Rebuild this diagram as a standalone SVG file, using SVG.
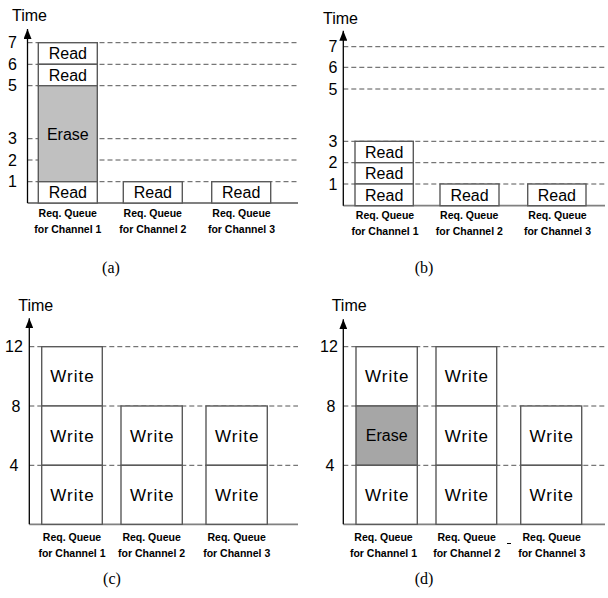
<svg xmlns="http://www.w3.org/2000/svg" width="608" height="598" viewBox="0 0 608 598">
<style>
.bg{fill:#ffffff}
.box{fill:#ffffff;stroke:#5a5a5a;stroke-width:1.4}
.er1{fill:#c0c0c0;stroke:#5a5a5a;stroke-width:1.4}
.er2{fill:#a6a6a6;stroke:#5a5a5a;stroke-width:1.4}
.dash{stroke:#555555;stroke-width:1;stroke-dasharray:5,3;fill:none}
.yax{stroke:#000000;stroke-width:1.3;fill:none}
.xax{stroke:#808080;stroke-width:1.8;fill:none}
.t{font-family:"Liberation Sans",Arial,sans-serif;font-size:16px;fill:#000;text-anchor:middle}
.w{font-family:"Liberation Sans",Arial,sans-serif;font-size:17px;letter-spacing:1px;fill:#000;text-anchor:middle}
.n{font-family:"Liberation Sans",Arial,sans-serif;font-size:16px;fill:#000;text-anchor:middle}
.time{font-family:"Liberation Sans",Arial,sans-serif;font-size:16px;fill:#000}
.lab{font-family:"Liberation Sans",Arial,sans-serif;font-size:10.5px;font-weight:bold;fill:#000;text-anchor:middle}
.cap{font-family:"Liberation Serif","Times New Roman",serif;font-size:16px;fill:#000;text-anchor:middle}
</style>
<defs>
<marker id="arr" markerUnits="userSpaceOnUse" markerWidth="10" markerHeight="8" refX="10" refY="4" orient="auto">
<path d="M0,0 L10,4 L0,8 z" fill="#000"/>
</marker>
</defs>
<rect class="bg" x="0" y="0" width="608" height="598"/>

<g id="connectors">
<!-- panel a -->
<g id="grid-a">
<line class="dash" x1="27.5" y1="42.7" x2="298" y2="42.7"/>
<line class="dash" x1="27.5" y1="64.3" x2="298" y2="64.3"/>
<line class="dash" x1="27.5" y1="85.7" x2="298" y2="85.7"/>
<line class="dash" x1="27.5" y1="138.7" x2="298" y2="138.7"/>
<line class="dash" x1="27.5" y1="160" x2="298" y2="160"/>
<line class="dash" x1="27.5" y1="181.7" x2="298" y2="181.7"/>
</g>
<line class="xax" x1="27.5" y1="203" x2="298" y2="203"/>
<line class="yax" x1="27.5" y1="203" x2="27.5" y2="29" marker-end="url(#arr)"/>
<!-- panel b -->
<g id="grid-b">
<line class="dash" x1="343.3" y1="46.7" x2="606" y2="46.7"/>
<line class="dash" x1="343.3" y1="67.3" x2="606" y2="67.3"/>
<line class="dash" x1="343.3" y1="89" x2="606" y2="89"/>
<line class="dash" x1="343.3" y1="141.3" x2="606" y2="141.3"/>
<line class="dash" x1="343.3" y1="162.7" x2="606" y2="162.7"/>
<line class="dash" x1="343.3" y1="184" x2="606" y2="184"/>
</g>
<line class="xax" x1="343.3" y1="205.7" x2="605" y2="205.7"/>
<line class="yax" x1="343.3" y1="205.7" x2="343.3" y2="30.7" marker-end="url(#arr)"/>
<!-- panel c -->
<g id="grid-c">
<line class="dash" x1="29.3" y1="346.7" x2="298" y2="346.7"/>
<line class="dash" x1="29.3" y1="406" x2="298" y2="406"/>
<line class="dash" x1="29.3" y1="465.3" x2="298" y2="465.3"/>
</g>
<line class="xax" x1="29.3" y1="524.3" x2="298" y2="524.3"/>
<line class="yax" x1="29.3" y1="524.3" x2="29.3" y2="318.3" marker-end="url(#arr)"/>
<!-- panel d -->
<g id="grid-d">
<line class="dash" x1="343.3" y1="346.7" x2="606" y2="346.7"/>
<line class="dash" x1="343.3" y1="406" x2="606" y2="406"/>
<line class="dash" x1="343.3" y1="465.3" x2="606" y2="465.3"/>
</g>
<line class="xax" x1="343.3" y1="524.3" x2="605" y2="524.3"/>
<line class="yax" x1="343.3" y1="524.3" x2="343.3" y2="319.3" marker-end="url(#arr)"/>
</g>

<!-- Panel (a) -->
<g id="panel-a">
<text class="time" x="12" y="20.7">Time</text>
<text class="n" x="12.5" y="48.4">7</text>
<text class="n" x="12.5" y="70">6</text>
<text class="n" x="12.5" y="91.4">5</text>
<text class="n" x="12.5" y="144.4">3</text>
<text class="n" x="12.5" y="165.7">2</text>
<text class="n" x="12.5" y="187.4">1</text>
<g id="a-ch1">
<rect class="box" x="38.3" y="42.7" width="59" height="21.6"/>
<text class="t" x="67.8" y="59.3">Read</text>
<rect class="box" x="38.3" y="64.3" width="59" height="21.4"/>
<text class="t" x="67.8" y="80.8">Read</text>
<rect class="er1" x="38.3" y="85.7" width="59" height="96"/>
<text class="t" x="67.8" y="139.7">Erase</text>
<rect class="box" x="38.3" y="181.7" width="59" height="21.3"/>
<text class="t" x="67.8" y="198.1">Read</text>
</g>
<g id="a-ch2">
<rect class="box" x="123.3" y="181.7" width="59" height="21.3"/>
<text class="t" x="152.8" y="198.1">Read</text>
</g>
<g id="a-ch3">
<rect class="box" x="211.7" y="181.7" width="59" height="21.3"/>
<text class="t" x="241.2" y="198.1">Read</text>
</g>
<text class="lab" x="67.8" y="217">Req. Queue</text>
<text class="lab" x="67.8" y="233">for Channel 1</text>
<text class="lab" x="152.8" y="217">Req. Queue</text>
<text class="lab" x="152.8" y="233">for Channel 2</text>
<text class="lab" x="241.5" y="217">Req. Queue</text>
<text class="lab" x="241.5" y="233">for Channel 3</text>
<text class="cap" x="111" y="272.5">(a)</text>
</g>

<!-- Panel (b) -->
<g id="panel-b">
<text class="time" x="323" y="24">Time</text>
<text class="n" x="333" y="52.4">7</text>
<text class="n" x="333" y="73">6</text>
<text class="n" x="333" y="94.7">5</text>
<text class="n" x="333" y="147">3</text>
<text class="n" x="333" y="168.4">2</text>
<text class="n" x="333" y="189.7">1</text>
<g id="b-ch1">
<rect class="box" x="355" y="141.3" width="58.3" height="21.4"/>
<text class="t" x="384.2" y="157.8">Read</text>
<rect class="box" x="355" y="162.7" width="58.3" height="21.3"/>
<text class="t" x="384.2" y="179.1">Read</text>
<rect class="box" x="355" y="184" width="58.3" height="21.7"/>
<text class="t" x="384.2" y="200.6">Read</text>
</g>
<g id="b-ch2">
<rect class="box" x="440" y="184" width="59" height="21.7"/>
<text class="t" x="469.5" y="200.6">Read</text>
</g>
<g id="b-ch3">
<rect class="box" x="527.7" y="184" width="58.3" height="21.7"/>
<text class="t" x="556.9" y="200.6">Read</text>
</g>
<text class="lab" x="385" y="219">Req. Queue</text>
<text class="lab" x="385" y="234.5">for Channel 1</text>
<text class="lab" x="469.3" y="219">Req. Queue</text>
<text class="lab" x="469.3" y="234.5">for Channel 2</text>
<text class="lab" x="557.5" y="219">Req. Queue</text>
<text class="lab" x="557.5" y="234.5">for Channel 3</text>
<text class="cap" x="424" y="272.5">(b)</text>
</g>

<!-- Panel (c) -->
<g id="panel-c">
<text class="time" x="18.3" y="310.7">Time</text>
<text class="n" x="14" y="352.4">12</text>
<text class="n" x="16" y="411.7">8</text>
<text class="n" x="14" y="471">4</text>
<g id="c-ch1">
<rect class="box" x="41.7" y="346.7" width="60.6" height="59.3"/>
<text class="w" x="72.5" y="382.3">Write</text>
<rect class="box" x="41.7" y="406" width="60.6" height="59.3"/>
<text class="w" x="72.5" y="441.6">Write</text>
<rect class="box" x="41.7" y="465.3" width="60.6" height="59"/>
<text class="w" x="72.5" y="500.8">Write</text>
</g>
<g id="c-ch2">
<rect class="box" x="121" y="406" width="61.3" height="59.3"/>
<text class="w" x="152.2" y="441.6">Write</text>
<rect class="box" x="121" y="465.3" width="61.3" height="59"/>
<text class="w" x="152.2" y="500.8">Write</text>
</g>
<g id="c-ch3">
<rect class="box" x="206" y="406" width="61.3" height="59.3"/>
<text class="w" x="237.2" y="441.6">Write</text>
<rect class="box" x="206" y="465.3" width="61.3" height="59"/>
<text class="w" x="237.2" y="500.8">Write</text>
</g>
<text class="lab" x="72" y="541">Req. Queue</text>
<text class="lab" x="72" y="556.5">for Channel 1</text>
<text class="lab" x="151.6" y="541">Req. Queue</text>
<text class="lab" x="151.6" y="556.5">for Channel 2</text>
<text class="lab" x="236.7" y="541">Req. Queue</text>
<text class="lab" x="236.7" y="556.5">for Channel 3</text>
<text class="cap" x="112" y="583.5">(c)</text>
</g>

<!-- Panel (d) -->
<g id="panel-d">
<text class="time" x="331.7" y="310.7">Time</text>
<text class="n" x="329" y="352.4">12</text>
<text class="n" x="331" y="411.7">8</text>
<text class="n" x="330" y="471">4</text>
<g id="d-ch1">
<rect class="box" x="356" y="346.7" width="61.3" height="59.3"/>
<text class="w" x="387.2" y="382.3">Write</text>
<rect class="er2" x="356" y="406" width="61.3" height="59.3"/>
<text class="t" x="386.7" y="441.4">Erase</text>
<rect class="box" x="356" y="465.3" width="61.3" height="59"/>
<text class="w" x="387.2" y="500.8">Write</text>
</g>
<g id="d-ch2">
<rect class="box" x="436" y="346.7" width="60.7" height="59.3"/>
<text class="w" x="466.9" y="382.3">Write</text>
<rect class="box" x="436" y="406" width="60.7" height="59.3"/>
<text class="w" x="466.9" y="441.6">Write</text>
<rect class="box" x="436" y="465.3" width="60.7" height="59"/>
<text class="w" x="466.9" y="500.8">Write</text>
</g>
<g id="d-ch3">
<rect class="box" x="520.7" y="406" width="61" height="59.3"/>
<text class="w" x="551.7" y="441.6">Write</text>
<rect class="box" x="520.7" y="465.3" width="61" height="59"/>
<text class="w" x="551.7" y="500.8">Write</text>
</g>
<text class="lab" x="383.5" y="541">Req. Queue</text>
<text class="lab" x="383.5" y="556.5">for Channel 1</text>
<text class="lab" x="466.7" y="541">Req. Queue</text>
<text class="lab" x="466.7" y="556.5">for Channel 2</text>
<text class="lab" x="551.7" y="541">Req. Queue</text>
<text class="lab" x="551.7" y="556.5">for Channel 3</text>
<line x1="507" y1="543.5" x2="511" y2="543.5" stroke="#000" stroke-width="1"/>
<text class="cap" x="424" y="583.5">(d)</text>
</g>
</svg>
